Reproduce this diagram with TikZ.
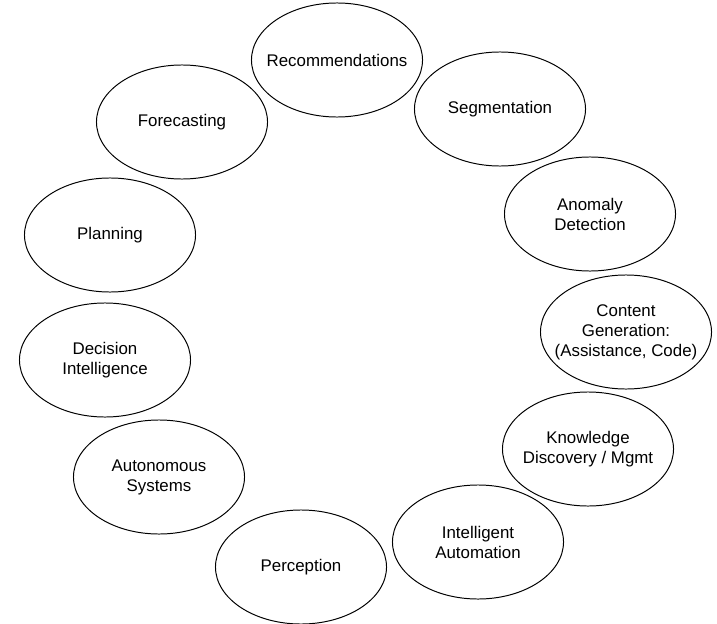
\documentclass[tikz,border=0pt]{standalone}
\usepackage{fontspec}
\setmainfont{Liberation Sans}
\usetikzlibrary{shapes.geometric}

\begin{document}
\begin{tikzpicture}[x=0.025cm, y=-0.025cm, line width=.7pt,
    usecase/.style={draw, ellipse, inner xsep=-1cm, inner ysep=0pt, minimum width=4.275cm, minimum height=2.85cm,
      align=center, font=\fontsize{12}{14.2}\selectfont}]
  \useasboundingbox (0,0) rectangle (717,624);
  \node[usecase] (recommend) at (337,60) {Recommendations};
  \node[usecase] (segment) at (500,109) {Segmentation};
  \node[usecase] (anomaly) at (590,214) {Anomaly\\Detection};
  \node[usecase] (content) at (626,332) {Content\\Generation:\\(Assistance, Code)};
  \node[usecase] (knowledge) at (588,449) {Knowledge\\Discovery / Mgmt};
  \node[usecase] (automation) at (478,542) {Intelligent\\Automation};
  \node[usecase] (perception) at (301,567) {Perception};
  \node[usecase] (autonomous) at (159,477) {Autonomous\\Systems};
  \node[usecase] (decision) at (105,360) {Decision\\Intelligence};
  \node[usecase] (planning) at (110,235) {Planning};
  \node[usecase] (forecast) at (182,122) {Forecasting};
\end{tikzpicture}
\end{document}
